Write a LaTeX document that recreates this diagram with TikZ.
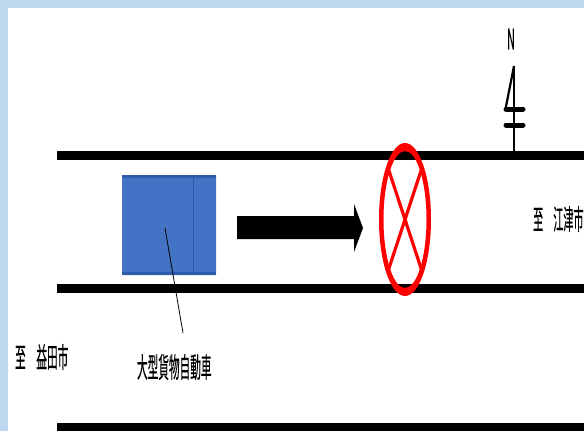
\documentclass[tikz,border=0pt]{standalone}
\usepackage{fontspec}
\newfontfamily\cjk[FakeBold=0.5]{Noto Sans CJK JP}
\usetikzlibrary{positioning, shapes.geometric}
\definecolor{frameBlue}{HTML}{BDD7EE}
\definecolor{truckBlue}{HTML}{4472C4}
\definecolor{truckEdge}{HTML}{2F5CAA}
\tikzset{
    road/.style={line width=9pt},
    label/.style={inner sep=0pt, xscale=0.38, transform shape, font=\cjk\fontsize{28}{28}\selectfont},
    symbolBar/.style={line width=5pt, line cap=round},
}

\begin{document}
\begin{tikzpicture}[x=1pt, y=-1pt, line cap=butt]
    \useasboundingbox (0, 0) rectangle (584, 431);
    \clip (0, 0) rectangle (584, 431);
    \fill[frameBlue] (0, 0) rectangle (584, 431);
    \fill[white] (8, 8) rectangle (584, 431);

    \coordinate (topRoadStart) at (57, 155);
    \coordinate (topRoadEnd) at (584, 155);
    \coordinate (midRoadStart) at (57, 288);
    \coordinate (midRoadEnd) at (584, 288);
    \coordinate (lowRoadStart) at (57, 427);
    \coordinate (lowRoadEnd) at (584, 427);
    \draw[road] (topRoadStart) -- (topRoadEnd);
    \draw[road] (midRoadStart) -- (midRoadEnd);
    \draw[road] (lowRoadStart) -- (lowRoadEnd);

    \node[fill=truckBlue, rounded corners=1.5pt, minimum width=94pt, minimum height=100pt, inner sep=0pt, outer sep=0pt] (truck) at (169, 225) {};
    \draw[truckEdge, line width=3pt] ([yshift=-1.5pt]truck.north west) -- ([yshift=-1.5pt]truck.north east);
    \draw[truckEdge, line width=3pt] ([yshift=1.5pt]truck.south west) -- ([yshift=1.5pt]truck.south east);
    \coordinate (cabTop) at (193, 175);
    \coordinate (cabBottom) at (193, 275);
    \draw[truckEdge, line width=0.8pt] (cabTop) -- (cabBottom);

    \fill (237, 216) -- (354, 216) -- (354, 204) -- (363, 228) -- (354, 252) -- (354, 239) -- (237, 239) -- cycle;

    \node[ellipse, minimum width=48pt, minimum height=146pt, inner sep=0pt, outer sep=0pt] (closure) at (405, 219.5) {};
    \fill[red, even odd rule] (closure.center) ellipse [x radius=26pt, y radius=76.5pt]
        (closure.center) ellipse [x radius=21.5pt, y radius=68.5pt];
    \draw[red, line width=3.2pt] (closure.north west) -- (closure.south east);
    \draw[red, line width=3.2pt] (closure.north east) -- (closure.south west);

    \node[label] (north) at (511, 39) {N};
    \coordinate (needleTip) at (514, 66);
    \coordinate (needleFoot) at (514, 155);
    \coordinate (needleBase) at (505.5, 109);
    \draw[line width=1.4pt] (needleTip) -- (needleFoot);
    \draw[line width=2.2pt] (needleTip) -- (needleBase);
    \draw[symbolBar] (506, 109) -- (523, 109);
    \draw[symbolBar] (506, 125) -- (523, 125);

    \node[label, anchor=west] (toMasuda) at (15, 357) {至　益田市};
    \node[label, anchor=west, xscale=0.95] (toGotsu) at (533, 219) {至　江津市};
    \node[label, anchor=west] (truckLabel) at (137, 367) {大型貨物自動車};

    \coordinate (leaderStart) at (165, 228);
    \coordinate (leaderEnd) at (183, 333);
    \draw[line width=0.8pt] (leaderStart) -- (leaderEnd);
\end{tikzpicture}
\end{document}
